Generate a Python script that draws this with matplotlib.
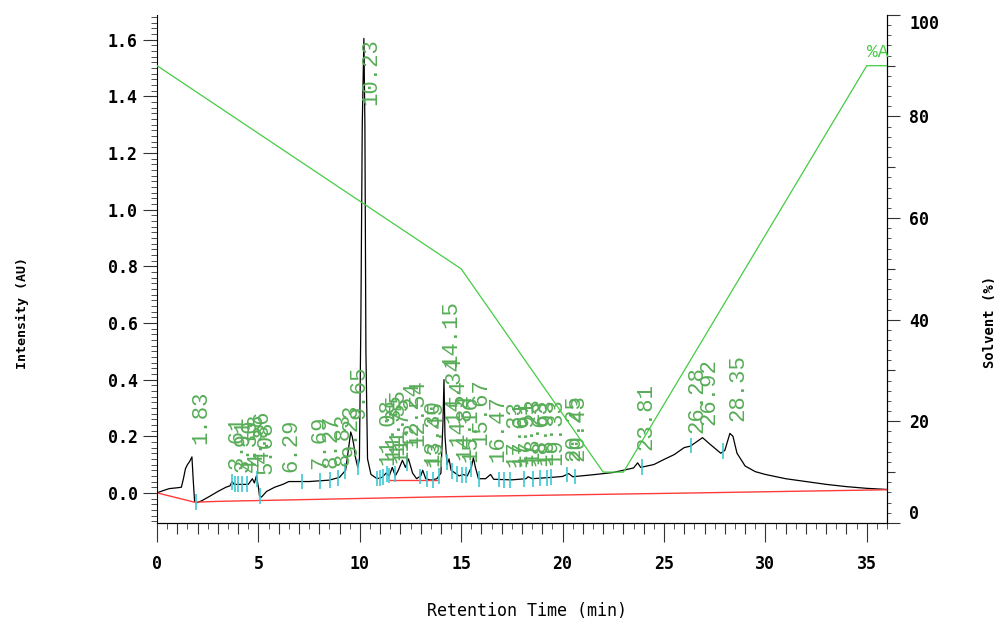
import numpy as np
import matplotlib.pyplot as plt
from matplotlib.ticker import MultipleLocator

# Chromatogram trace (retention time in min, intensity in AU)
time = [0.0, 0.3, 0.6, 1.0, 1.2, 1.3, 1.4, 1.5, 1.6, 1.72, 1.78, 1.85, 1.95,
        2.2, 2.6, 3.0, 3.4, 3.6, 3.7, 3.8, 4.2, 4.5, 4.7, 4.8, 4.9, 5.0,
        5.05, 5.15, 5.4, 5.8, 6.2, 6.5, 7.5, 8.5, 9.0, 9.3, 9.45, 9.55, 9.62,
        9.7, 9.8, 9.9, 9.98, 10.05, 10.12, 10.2, 10.25, 10.3, 10.38, 10.55,
        10.85, 11.1, 11.3, 11.45, 11.6, 11.75, 11.9, 12.1, 12.25, 12.4, 12.6,
        12.8, 13.0, 13.1, 13.25, 13.5, 13.8, 14.0, 14.1, 14.15, 14.2, 14.3,
        14.4, 14.5, 14.7, 14.9, 15.1, 15.3, 15.5, 15.6, 15.7, 15.85, 16.2,
        16.45, 16.6, 17.5, 18.2, 18.3, 18.5, 19.5, 20.0, 20.3, 20.5, 21.5,
        22.5, 23.5, 23.7, 23.85, 24.5, 25.0, 25.5, 26.0, 26.3, 26.5, 26.9,
        27.3, 27.8, 28.0, 28.25, 28.4, 28.6, 29.0, 29.5, 30.0, 31.0, 32.0,
        33.0, 34.0, 35.0, 36.0]
intensity = [0.0, 0.008, 0.015, 0.018, 0.02, 0.05, 0.085, 0.1, 0.11, 0.127,
             0.05, -0.03, -0.035, -0.028, -0.012, 0.005, 0.02, 0.025, 0.04,
             0.03, 0.03, 0.03, 0.05, 0.035, 0.06, 0.02, -0.01, -0.015, 0.005,
             0.02, 0.03, 0.04, 0.04, 0.045, 0.055, 0.08, 0.16, 0.215, 0.2,
             0.17, 0.12, 0.09, 0.12, 0.6, 1.3, 1.605, 1.3, 0.5, 0.12, 0.065,
             0.05, 0.055, 0.07, 0.06, 0.09, 0.06, 0.08, 0.115, 0.09, 0.12,
             0.07, 0.05, 0.06, 0.08, 0.05, 0.045, 0.05, 0.07, 0.25, 0.40,
             0.2, 0.1, 0.12, 0.08, 0.07, 0.06, 0.065, 0.06, 0.09, 0.124, 0.09,
             0.05, 0.05, 0.065, 0.048, 0.046, 0.05, 0.057, 0.05, 0.055,
             0.058, 0.068, 0.057, 0.064, 0.072, 0.088, 0.106, 0.09, 0.1,
             0.118, 0.135, 0.16, 0.165, 0.175, 0.195, 0.17, 0.14, 0.15,
             0.21, 0.2, 0.14, 0.095, 0.075, 0.065, 0.05, 0.04, 0.03, 0.022,
             0.016, 0.012]

# Integration baselines
base_time = [0.0, 1.85, 3.0, 14.0, 26.7, 36.0]
base_level = [0.0, -0.033, -0.03, -0.014, 0.0, 0.011]
local_base_time = [11.5, 13.8]
local_base_level = [0.046, 0.046]

# Solvent gradient (%A)
solvent_time = [0, 15, 22, 23, 35, 36]
solvent_pct = [90, 50, 10, 10, 90, 90]

# Peak retention times and integration event marks
peak_rt = [1.83, 3.61, 3.91, 4.30, 4.58, 4.86, 5.08, 6.29, 7.69, 8.27, 8.83,
           9.23, 9.65, 10.23, 11.08, 11.35, 11.55, 11.75, 12.24, 12.54,
           13.30, 13.45, 14.15, 14.34, 14.54, 14.84, 15.16, 15.67, 16.47,
           17.33, 17.61, 17.91, 18.23, 18.63, 18.93, 19.33, 20.25, 20.43,
           23.81, 26.28, 26.92, 28.35]
event_rt = [1.92, 3.69, 3.84, 3.99, 4.19, 4.43, 4.93, 5.07, 7.14, 8.03, 8.52,
            8.92, 9.26, 9.9, 10.84, 10.99, 11.13, 11.33, 11.43, 11.72, 12.32,
            12.96, 13.3, 13.6, 13.89, 14.29, 14.53, 14.78, 15.02, 15.22,
            15.47, 15.86, 16.85, 17.09, 17.39, 18.08, 18.52, 18.87, 19.21,
            19.41, 20.2, 20.59, 23.94, 26.35, 27.93]

left_ticks = [0.0, 0.2, 0.4, 0.6, 0.8, 1.0, 1.2, 1.4, 1.6]
right_ticks = [0, 20, 40, 60, 80, 100]

plt.rcParams['font.family'] = 'DejaVu Sans Mono'
plt.rcParams['font.weight'] = 'bold'
plt.rcParams['font.size'] = 12

label_green = '#58ad58'
line_green = '#44cc44'

fig = plt.figure(figsize=(9.94, 6.21), dpi=100)
ax = fig.add_axes([0.158, 0.158, 0.7344, 0.818])

# Trace, baselines and event marks
ax.plot(time, intensity, color='black', lw=0.9)
ax.plot(base_time, base_level, color='#ff3b3b', lw=1.0)
ax.plot(local_base_time, local_base_level, color='#ff3b3b', lw=1.0)
ev_y = np.interp(event_rt, time, intensity)
ax.vlines(event_rt, ev_y - 0.028, ev_y + 0.028, color='#3cc8d2', lw=1.2)

# Retention time labels above each peak
t_arr = np.array(time)
i_arr = np.array(intensity)
for rt in peak_rt:
    near = (t_arr > rt - 0.15) & (t_arr < rt + 0.15)
    top = i_arr[near].max() if near.any() else np.interp(rt, time, intensity)
    y = min(top + 0.045, 1.37)
    ax.text(rt - 0.2, y, f'{rt:.2f}', rotation=90, ha='left', va='bottom',
            color=label_green, fontsize=16, family='Liberation Mono',
            fontweight='normal', clip_on=False)

ax.set_xlim(0, 36)
ax.set_ylim(-0.106, 1.688)
ax.spines['top'].set_visible(False)
ax.spines['right'].set_visible(False)

ax.xaxis.set_major_locator(MultipleLocator(5))
ax.xaxis.set_minor_locator(MultipleLocator(0.5))
ax.tick_params(axis='x', which='major', length=14, pad=9, color='#333333')
ax.tick_params(axis='x', which='minor', length=4, color='#333333')
sec = ax.secondary_xaxis('bottom')
sec.set_xticks([m for m in range(1, 36) if m % 5])
sec.tick_params(length=8, labelbottom=False, color='#333333')

ax.set_yticks(left_ticks)
ax.set_yticklabels([f'{v:.1f}' for v in left_ticks])
ax.yaxis.set_minor_locator(MultipleLocator(0.02))
ax.tick_params(axis='y', which='major', length=10, pad=4, color='#333333')
ax.tick_params(axis='y', which='minor', length=4, color='#333333')

# Solvent gradient on the right axis
ax2 = ax.twinx()
ax2.plot(solvent_time, solvent_pct, color=line_green, lw=0.9)
ax2.text(35.0, 91, '%A', color=line_green, fontsize=13,
         family='Liberation Mono', fontweight='normal', ha='left', va='bottom')
ax2.set_ylim(0, 100)
for side in ['top', 'left', 'bottom']:
    ax2.spines[side].set_visible(False)
ax2.set_yticks(right_ticks)
ax2.yaxis.set_minor_locator(MultipleLocator(2))
ax2.tick_params(axis='y', which='major', length=9, pad=7, color='#333333')
ax2.tick_params(axis='y', which='minor', length=3, color='#333333')
labs = ax2.get_yticklabels()
labs[0].set_va('bottom')
labs[-1].set_va('top')
mid = ax2.secondary_yaxis('right')
mid.set_yticks([10, 30, 50, 70, 90])
mid.tick_params(length=6, labelright=False, color='#333333')

fig.text(527 / 994, 1 - 611 / 621, 'Retention Time (min)', ha='center',
         va='center', fontsize=12, fontweight='normal')
fig.text(22 / 994, 1 - 313 / 621, 'Intensity (AU)', rotation=90,
         ha='center', va='center', fontsize=9.5)
fig.text(990 / 994, 1 - 322 / 621, 'Solvent (%)', rotation=90,
         ha='center', va='center', fontsize=10)

fig.savefig('out.png', dpi=100)
